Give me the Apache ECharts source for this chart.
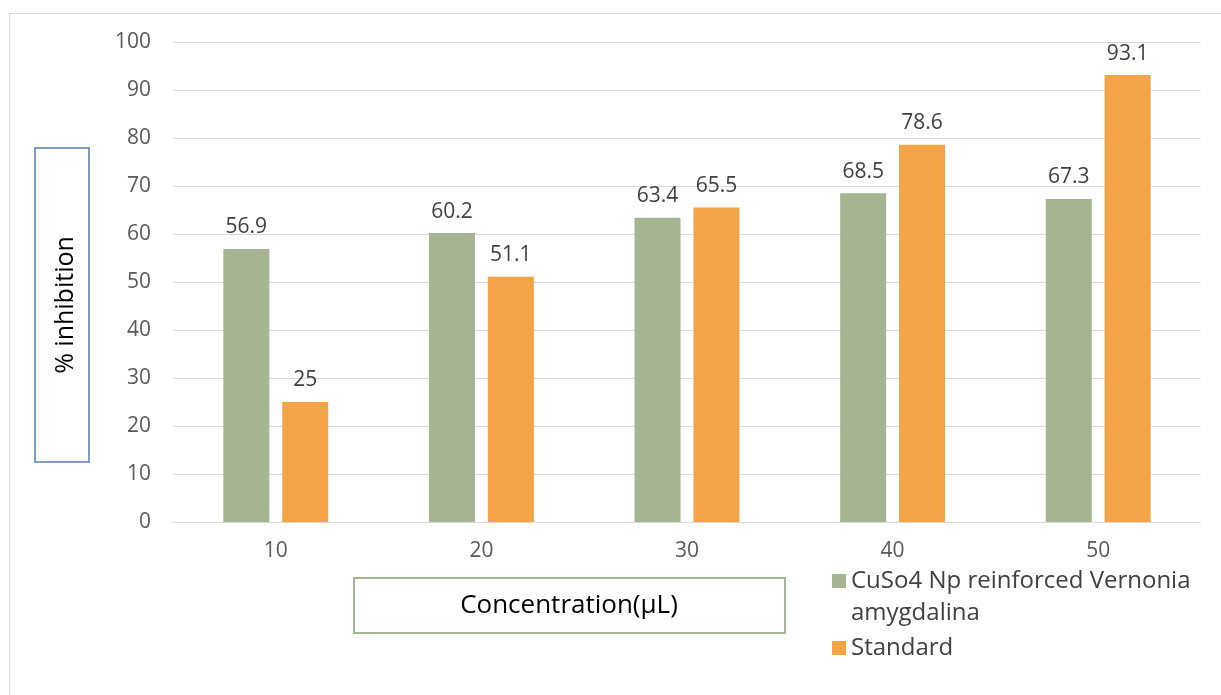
<!DOCTYPE html>
<html><head><meta charset="utf-8">
<script src="https://cdn.jsdelivr.net/npm/echarts@6/dist/echarts.min.js"></script>
<style>html,body{margin:0;padding:0;background:#fff}#c{width:1221px;height:695px}</style>
</head><body><div id="c"></div>
<script>
const categories = ['10', '20', '30', '40', '50'];
const seriesNames = ['CuSo4 Np reinforced Vernonia amygdalina', 'Standard'];
const cusoValues = [56.9, 60.2, 63.4, 68.5, 67.3];
const standardValues = [25, 51.1, 65.5, 78.6, 93.1];
const yTicks = { min: 0, max: 100, interval: 10 };
const xTitle = 'Concentration(\u03bcL)';
const yTitle = '% inhibition';

const FONT = '"Open Sans", "Noto Sans", sans-serif';
const chart = echarts.init(document.getElementById('c'), null, { renderer: 'canvas' });
const labelCfg = { show: true, position: 'top', distance: 11, color: '#404040', fontSize: 21, fontFamily: FONT };
chart.setOption({
  animation: false,
  grid: { left: 173, right: 20, top: 42, bottom: 173, containLabel: false },
  xAxis: {
    type: 'category', data: categories,
    axisLine: { lineStyle: { color: '#d9d9d9', width: 1 } },
    axisTick: { show: false },
    axisLabel: { color: '#595959', fontSize: 21, fontFamily: FONT, margin: 19 }
  },
  yAxis: {
    type: 'value', min: yTicks.min, max: yTicks.max, interval: yTicks.interval,
    axisLine: { show: false }, axisTick: { show: false },
    splitLine: { lineStyle: { color: '#d9d9d9', width: 1 } },
    axisLabel: { color: '#595959', fontSize: 21, fontFamily: FONT, margin: 22 }
  },
  legend: {
    orient: 'vertical', left: 827, top: 528, itemWidth: 14, itemHeight: 14, itemGap: 3,
    icon: 'rect',
    formatter: function (n) { return n === seriesNames[0] ? '\nCuSo4 Np reinforced Vernonia\namygdalina' : n; },
    textStyle: { color: '#404040', fontSize: 24, fontFamily: FONT, lineHeight: 32 },
    data: seriesNames
  },
  series: [
    { name: seriesNames[0], type: 'bar', data: cusoValues, barWidth: 46, barGap: '28%',
      itemStyle: { color: '#a5b592' }, label: labelCfg },
    { name: seriesNames[1], type: 'bar', data: standardValues, barWidth: 46,
      itemStyle: { color: '#f3a447' }, label: labelCfg }
  ],
  graphic: [
    { type: 'rect', shape: { x: 9.5, y: 13.5, width: 1240, height: 720 }, style: { fill: 'none', stroke: '#d9d9d9', lineWidth: 1 }, silent: true, z: -1 },
    { type: 'rect', shape: { x: 35, y: 148, width: 54, height: 314 }, style: { fill: 'none', stroke: '#7f9cc6', lineWidth: 2 } },
    { type: 'text', x: 66, y: 305, rotation: Math.PI / 2, style: { text: yTitle, fill: '#000', fontSize: 25, fontFamily: FONT, align: 'center', verticalAlign: 'middle' } },
    { type: 'rect', shape: { x: 354, y: 578, width: 431, height: 55 }, style: { fill: 'none', stroke: '#a5b592', lineWidth: 2 } },
    { type: 'text', x: 569, y: 606, style: { text: xTitle, fill: '#000', fontSize: 26, fontFamily: FONT, align: 'center', verticalAlign: 'middle' } }
  ]
});
</script></body></html>
